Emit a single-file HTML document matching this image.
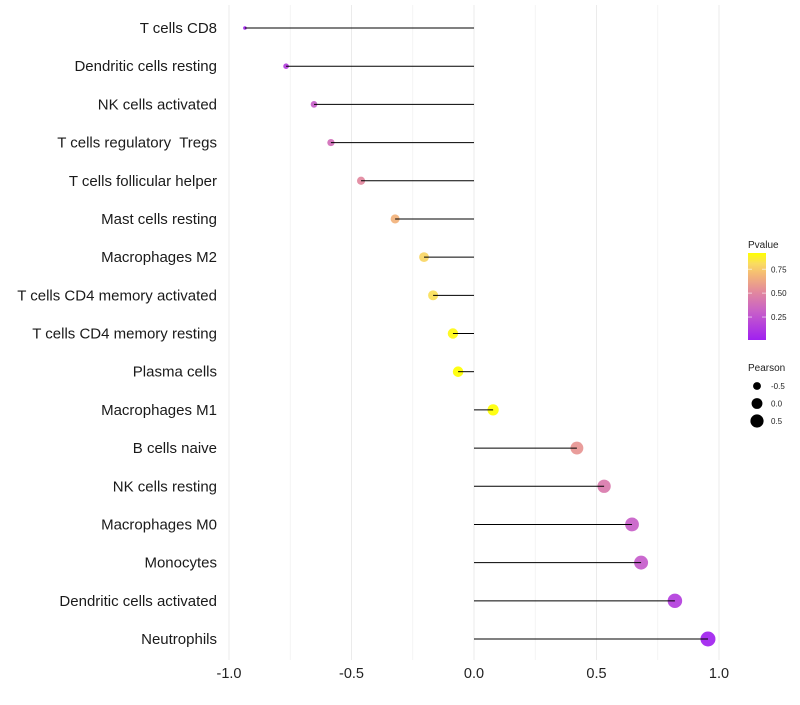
<!DOCTYPE html>
<html><head><meta charset="utf-8"><style>
body{margin:0;background:#fff;font-family:"Liberation Sans",sans-serif}
svg text{font-family:"Liberation Sans",sans-serif;white-space:pre}
</style></head><body>
<svg id="c" width="800" height="700"></svg>
<script>
const categories=["T cells CD8","Dendritic cells resting","NK cells activated","T cells regulatory  Tregs","T cells follicular helper","Mast cells resting","Macrophages M2","T cells CD4 memory activated","T cells CD4 memory resting","Plasma cells","Macrophages M1","B cells naive","NK cells resting","Macrophages M0","Monocytes","Dendritic cells activated","Neutrophils"];
const pearson=[-0.935,-0.767,-0.653,-0.584,-0.461,-0.322,-0.204,-0.167,-0.086,-0.065,0.078,0.420,0.531,0.645,0.682,0.820,0.955];
const pvalue=[0.02,0.15,0.3,0.38,0.51,0.67,0.79,0.82,0.9,0.92,0.92,0.56,0.44,0.31,0.29,0.15,0.02];
const xTicks=[-1,-0.5,0,0.5,1];
const xTickLabels=["-1.0","-0.5","0.0","0.5","1.0"];
const pLegendTicks=[0.25,0.5,0.75];
const sizeLegend=[-0.5,0,0.5];

const NS="http://www.w3.org/2000/svg";
const svg=document.getElementById('c');
function mk(t,a,p){const e=document.createElementNS(NS,t);for(const k in a)e.setAttribute(k,a[k]);(p||svg).appendChild(e);return e;}
const x=v=>474+v*245;
const y=i=>28+i*(611/(categories.length-1));
const pmin=0.01,pmax=0.92;
const stops=[[0,[160,32,240]],[0.33,[200,96,200]],[0.55,[226,136,158]],[0.75,[244,184,118]],[0.88,[250,220,96]],[1,[255,255,0]]];
function colT(t){t=Math.max(0,Math.min(1,t));for(let k=1;k<stops.length;k++){if(t<=stops[k][0]){const [t0,a]=stops[k-1],[t1,b]=stops[k];const f=(t-t0)/(t1-t0);return `rgb(${a.map((c,i)=>Math.round(c+(b[i]-c)*f)).join(',')})`;}}return 'rgb(255,255,0)';}
const col=p=>colT((p-pmin)/(pmax-pmin));
const smin=Math.min(...pearson),smax=Math.max(...pearson);
function rad(v){const t=(v-smin)/(smax-smin);return Math.sqrt(1.8*1.8+t*(7.5*7.5-1.8*1.8));}

const grid=mk('g',{});  
for(let v=-1;v<=1.001;v+=0.25){mk('line',{x1:x(v),x2:x(v),y1:5,y2:660,stroke:v%0.5===0?'#ebebeb':'#f2f2f2','stroke-width':v%0.5===0?1:0.8},grid);}

const xa=mk('g',{});  
xTicks.forEach((v,i)=>{const t=mk('text',{x:x(v),y:678,'text-anchor':'middle','font-size':14.5,fill:'#222'},xa);t.textContent=xTickLabels[i];
});

categories.forEach((c,i)=>{
  const t=mk('text',{x:217,y:y(i)+5,'text-anchor':'end','font-size':15,fill:'#1a1a1a'});t.textContent=c;
  
  
  const p=mk('circle',{cx:x(pearson[i]),cy:y(i),r:rad(pearson[i]),fill:col(pvalue[i]),'fill-opacity':0.92});
  
  
});
categories.forEach((c,i)=>{
  const l=mk('line',{x1:x(0),x2:x(pearson[i]),y1:y(i),y2:y(i),stroke:'#000','stroke-width':1});
  
  
});

// legends
const lg=mk('g',{});  
let t=mk('text',{x:748,y:248,'font-size':10,fill:'#222'},lg);t.textContent='Pvalue';
const defs=mk('defs',{});const gr=mk('linearGradient',{id:'g1',x1:0,y1:1,x2:0,y2:0},defs);
stops.forEach(s=>mk('stop',{offset:s[0],'stop-color':colT(s[0])},gr));
mk('rect',{x:748,y:253,width:18,height:87,fill:'url(#g1)'},lg);
const ly=p=>340-(p-pmin)/(pmax-pmin)*87;
pLegendTicks.forEach(p=>{mk('line',{x1:748,x2:752,y1:ly(p),y2:ly(p),stroke:'#fff','stroke-opacity':0.6},lg);mk('line',{x1:762,x2:766,y1:ly(p),y2:ly(p),stroke:'#fff','stroke-opacity':0.6},lg);
  const s=mk('text',{x:771,y:ly(p)+3,'font-size':8,fill:'#222'},lg);s.textContent=p.toFixed(2);});
const sg=mk('g',{});  
t=mk('text',{x:748,y:371,'font-size':10,fill:'#222'},sg);t.textContent='Pearson';
sizeLegend.forEach((v,i)=>{const yy=386+i*17.5;mk('circle',{cx:757,cy:yy,r:rad(v),fill:'#000'},sg);
  const s=mk('text',{x:771,y:yy+3,'font-size':8,fill:'#222'},sg);s.textContent=v.toFixed(1);});
</script>
</body></html>
